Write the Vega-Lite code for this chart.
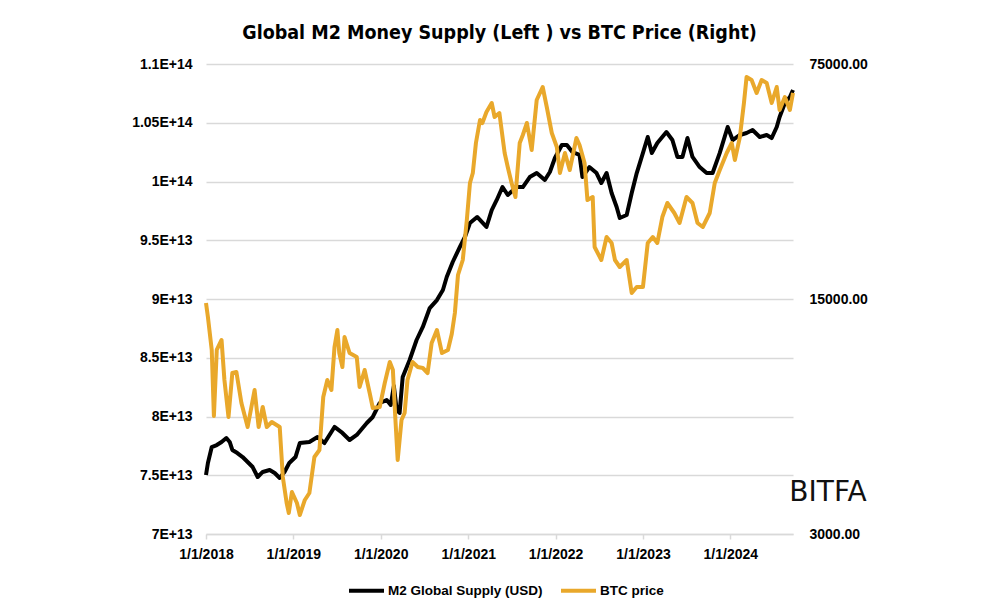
{
  "$schema": "https://vega.github.io/schema/vega-lite/v6.json",
  "autosize": {"type": "none"},
  "width": 587,
  "height": 470,
  "padding": {"left": 206, "top": 64, "right": 207, "bottom": 66},
  "background": "white",
  "title": {
    "text": "Global M2 Money Supply (Left ) vs BTC Price (Right)",
    "font": "Liberation Sans Narrow, DejaVu Sans Condensed, sans-serif",
    "fontSize": 19.5,
    "fontWeight": "bold",
    "color": "#000000",
    "anchor": "middle",
    "frame": "bounds",
    "offset": 14
  },
  "datasets": {
    "m2": [
      {"date": "2018-01-01", "series": "M2 Global Supply (USD)", "value": 7.502e13},
      {"date": "2018-01-09", "series": "M2 Global Supply (USD)", "value": 7.604e13},
      {"date": "2018-01-25", "series": "M2 Global Supply (USD)", "value": 7.740e13},
      {"date": "2018-02-15", "series": "M2 Global Supply (USD)", "value": 7.757e13},
      {"date": "2018-03-07", "series": "M2 Global Supply (USD)", "value": 7.783e13},
      {"date": "2018-03-27", "series": "M2 Global Supply (USD)", "value": 7.817e13},
      {"date": "2018-04-10", "series": "M2 Global Supply (USD)", "value": 7.783e13},
      {"date": "2018-04-21", "series": "M2 Global Supply (USD)", "value": 7.715e13},
      {"date": "2018-05-12", "series": "M2 Global Supply (USD)", "value": 7.689e13},
      {"date": "2018-06-03", "series": "M2 Global Supply (USD)", "value": 7.655e13},
      {"date": "2018-06-24", "series": "M2 Global Supply (USD)", "value": 7.613e13},
      {"date": "2018-07-15", "series": "M2 Global Supply (USD)", "value": 7.570e13},
      {"date": "2018-08-05", "series": "M2 Global Supply (USD)", "value": 7.485e13},
      {"date": "2018-08-26", "series": "M2 Global Supply (USD)", "value": 7.528e13},
      {"date": "2018-09-24", "series": "M2 Global Supply (USD)", "value": 7.545e13},
      {"date": "2018-10-15", "series": "M2 Global Supply (USD)", "value": 7.519e13},
      {"date": "2018-11-05", "series": "M2 Global Supply (USD)", "value": 7.477e13},
      {"date": "2018-11-25", "series": "M2 Global Supply (USD)", "value": 7.528e13},
      {"date": "2018-12-15", "series": "M2 Global Supply (USD)", "value": 7.604e13},
      {"date": "2019-01-10", "series": "M2 Global Supply (USD)", "value": 7.655e13},
      {"date": "2019-01-28", "series": "M2 Global Supply (USD)", "value": 7.774e13},
      {"date": "2019-03-09", "series": "M2 Global Supply (USD)", "value": 7.783e13},
      {"date": "2019-04-12", "series": "M2 Global Supply (USD)", "value": 7.826e13},
      {"date": "2019-05-11", "series": "M2 Global Supply (USD)", "value": 7.774e13},
      {"date": "2019-06-22", "series": "M2 Global Supply (USD)", "value": 7.911e13},
      {"date": "2019-07-25", "series": "M2 Global Supply (USD)", "value": 7.860e13},
      {"date": "2019-08-24", "series": "M2 Global Supply (USD)", "value": 7.800e13},
      {"date": "2019-09-23", "series": "M2 Global Supply (USD)", "value": 7.843e13},
      {"date": "2019-11-04", "series": "M2 Global Supply (USD)", "value": 7.945e13},
      {"date": "2019-11-29", "series": "M2 Global Supply (USD)", "value": 7.996e13},
      {"date": "2019-12-28", "series": "M2 Global Supply (USD)", "value": 8.115e13},
      {"date": "2020-01-26", "series": "M2 Global Supply (USD)", "value": 8.140e13},
      {"date": "2020-02-12", "series": "M2 Global Supply (USD)", "value": 8.098e13},
      {"date": "2020-02-25", "series": "M2 Global Supply (USD)", "value": 8.260e13},
      {"date": "2020-03-08", "series": "M2 Global Supply (USD)", "value": 8.055e13},
      {"date": "2020-03-20", "series": "M2 Global Supply (USD)", "value": 8.030e13},
      {"date": "2020-04-02", "series": "M2 Global Supply (USD)", "value": 8.336e13},
      {"date": "2020-05-01", "series": "M2 Global Supply (USD)", "value": 8.481e13},
      {"date": "2020-05-30", "series": "M2 Global Supply (USD)", "value": 8.651e13},
      {"date": "2020-06-25", "series": "M2 Global Supply (USD)", "value": 8.762e13},
      {"date": "2020-07-24", "series": "M2 Global Supply (USD)", "value": 8.923e13},
      {"date": "2020-08-23", "series": "M2 Global Supply (USD)", "value": 8.991e13},
      {"date": "2020-09-17", "series": "M2 Global Supply (USD)", "value": 9.077e13},
      {"date": "2020-10-03", "series": "M2 Global Supply (USD)", "value": 9.187e13},
      {"date": "2020-10-28", "series": "M2 Global Supply (USD)", "value": 9.315e13},
      {"date": "2020-11-27", "series": "M2 Global Supply (USD)", "value": 9.443e13},
      {"date": "2020-12-18", "series": "M2 Global Supply (USD)", "value": 9.528e13},
      {"date": "2021-01-08", "series": "M2 Global Supply (USD)", "value": 9.647e13},
      {"date": "2021-02-07", "series": "M2 Global Supply (USD)", "value": 9.698e13},
      {"date": "2021-03-18", "series": "M2 Global Supply (USD)", "value": 9.613e13},
      {"date": "2021-04-09", "series": "M2 Global Supply (USD)", "value": 9.757e13},
      {"date": "2021-04-30", "series": "M2 Global Supply (USD)", "value": 9.843e13},
      {"date": "2021-05-24", "series": "M2 Global Supply (USD)", "value": 9.953e13},
      {"date": "2021-06-15", "series": "M2 Global Supply (USD)", "value": 9.885e13},
      {"date": "2021-07-22", "series": "M2 Global Supply (USD)", "value": 9.953e13},
      {"date": "2021-08-17", "series": "M2 Global Supply (USD)", "value": 9.953e13},
      {"date": "2021-09-15", "series": "M2 Global Supply (USD)", "value": 1.0038e14},
      {"date": "2021-10-14", "series": "M2 Global Supply (USD)", "value": 1.0072e14},
      {"date": "2021-11-17", "series": "M2 Global Supply (USD)", "value": 1.0013e14},
      {"date": "2021-12-08", "series": "M2 Global Supply (USD)", "value": 1.0081e14},
      {"date": "2021-12-29", "series": "M2 Global Supply (USD)", "value": 1.0200e14},
      {"date": "2022-01-27", "series": "M2 Global Supply (USD)", "value": 1.0311e14},
      {"date": "2022-02-17", "series": "M2 Global Supply (USD)", "value": 1.0311e14},
      {"date": "2022-03-12", "series": "M2 Global Supply (USD)", "value": 1.0251e14},
      {"date": "2022-04-11", "series": "M2 Global Supply (USD)", "value": 1.0226e14},
      {"date": "2022-04-23", "series": "M2 Global Supply (USD)", "value": 1.0038e14},
      {"date": "2022-05-22", "series": "M2 Global Supply (USD)", "value": 1.0123e14},
      {"date": "2022-06-21", "series": "M2 Global Supply (USD)", "value": 1.0072e14},
      {"date": "2022-07-11", "series": "M2 Global Supply (USD)", "value": 9.987e13},
      {"date": "2022-08-02", "series": "M2 Global Supply (USD)", "value": 1.0072e14},
      {"date": "2022-08-23", "series": "M2 Global Supply (USD)", "value": 9.902e13},
      {"date": "2022-09-13", "series": "M2 Global Supply (USD)", "value": 9.783e13},
      {"date": "2022-09-26", "series": "M2 Global Supply (USD)", "value": 9.689e13},
      {"date": "2022-10-25", "series": "M2 Global Supply (USD)", "value": 9.715e13},
      {"date": "2022-11-15", "series": "M2 Global Supply (USD)", "value": 9.902e13},
      {"date": "2022-12-06", "series": "M2 Global Supply (USD)", "value": 1.0072e14},
      {"date": "2023-01-01", "series": "M2 Global Supply (USD)", "value": 1.0243e14},
      {"date": "2023-01-21", "series": "M2 Global Supply (USD)", "value": 1.0379e14},
      {"date": "2023-02-07", "series": "M2 Global Supply (USD)", "value": 1.0243e14},
      {"date": "2023-03-02", "series": "M2 Global Supply (USD)", "value": 1.0328e14},
      {"date": "2023-04-09", "series": "M2 Global Supply (USD)", "value": 1.0421e14},
      {"date": "2023-05-04", "series": "M2 Global Supply (USD)", "value": 1.0353e14},
      {"date": "2023-05-25", "series": "M2 Global Supply (USD)", "value": 1.0209e14},
      {"date": "2023-06-15", "series": "M2 Global Supply (USD)", "value": 1.0209e14},
      {"date": "2023-07-06", "series": "M2 Global Supply (USD)", "value": 1.0370e14},
      {"date": "2023-07-27", "series": "M2 Global Supply (USD)", "value": 1.0209e14},
      {"date": "2023-08-26", "series": "M2 Global Supply (USD)", "value": 1.0123e14},
      {"date": "2023-09-24", "series": "M2 Global Supply (USD)", "value": 1.0072e14},
      {"date": "2023-10-19", "series": "M2 Global Supply (USD)", "value": 1.0072e14},
      {"date": "2023-11-18", "series": "M2 Global Supply (USD)", "value": 1.0243e14},
      {"date": "2023-12-21", "series": "M2 Global Supply (USD)", "value": 1.0464e14},
      {"date": "2024-01-11", "series": "M2 Global Supply (USD)", "value": 1.0353e14},
      {"date": "2024-02-10", "series": "M2 Global Supply (USD)", "value": 1.0396e14},
      {"date": "2024-03-09", "series": "M2 Global Supply (USD)", "value": 1.0413e14},
      {"date": "2024-04-03", "series": "M2 Global Supply (USD)", "value": 1.0438e14},
      {"date": "2024-05-03", "series": "M2 Global Supply (USD)", "value": 1.0379e14},
      {"date": "2024-06-01", "series": "M2 Global Supply (USD)", "value": 1.0396e14},
      {"date": "2024-06-22", "series": "M2 Global Supply (USD)", "value": 1.0370e14},
      {"date": "2024-07-13", "series": "M2 Global Supply (USD)", "value": 1.0464e14},
      {"date": "2024-07-25", "series": "M2 Global Supply (USD)", "value": 1.0549e14},
      {"date": "2024-08-16", "series": "M2 Global Supply (USD)", "value": 1.0668e14},
      {"date": "2024-09-06", "series": "M2 Global Supply (USD)", "value": 1.0719e14},
      {"date": "2024-09-19", "series": "M2 Global Supply (USD)", "value": 1.0779e14}
    ],
    "btc": [
      {"date": "2018-01-01", "series": "BTC price", "value": 14595},
      {"date": "2018-01-09", "series": "BTC price", "value": 13261},
      {"date": "2018-01-25", "series": "BTC price", "value": 10579},
      {"date": "2018-02-03", "series": "BTC price", "value": 6732},
      {"date": "2018-02-15", "series": "BTC price", "value": 10579},
      {"date": "2018-03-07", "series": "BTC price", "value": 11329},
      {"date": "2018-03-19", "series": "BTC price", "value": 8613},
      {"date": "2018-04-05", "series": "BTC price", "value": 6686},
      {"date": "2018-04-21", "series": "BTC price", "value": 9036},
      {"date": "2018-05-08", "series": "BTC price", "value": 9099},
      {"date": "2018-05-29", "series": "BTC price", "value": 7358},
      {"date": "2018-06-24", "series": "BTC price", "value": 6243},
      {"date": "2018-07-23", "series": "BTC price", "value": 8043},
      {"date": "2018-08-09", "series": "BTC price", "value": 6243},
      {"date": "2018-08-26", "series": "BTC price", "value": 7159},
      {"date": "2018-09-12", "series": "BTC price", "value": 6243},
      {"date": "2018-10-03", "series": "BTC price", "value": 6460},
      {"date": "2018-11-05", "series": "BTC price", "value": 6243},
      {"date": "2018-11-18", "series": "BTC price", "value": 4433},
      {"date": "2018-12-04", "series": "BTC price", "value": 3710},
      {"date": "2018-12-13", "series": "BTC price", "value": 3464},
      {"date": "2018-12-26", "series": "BTC price", "value": 4000},
      {"date": "2019-01-16", "series": "BTC price", "value": 3710},
      {"date": "2019-01-28", "series": "BTC price", "value": 3417},
      {"date": "2019-02-18", "series": "BTC price", "value": 3787},
      {"date": "2019-03-09", "series": "BTC price", "value": 3973},
      {"date": "2019-03-30", "series": "BTC price", "value": 5083},
      {"date": "2019-04-20", "series": "BTC price", "value": 5333},
      {"date": "2019-05-06", "series": "BTC price", "value": 7667},
      {"date": "2019-05-23", "series": "BTC price", "value": 8613},
      {"date": "2019-06-09", "series": "BTC price", "value": 8043},
      {"date": "2019-06-22", "series": "BTC price", "value": 10797},
      {"date": "2019-07-04", "series": "BTC price", "value": 12131},
      {"date": "2019-07-12", "series": "BTC price", "value": 10362},
      {"date": "2019-07-25", "series": "BTC price", "value": 9415},
      {"date": "2019-08-03", "series": "BTC price", "value": 11562},
      {"date": "2019-08-24", "series": "BTC price", "value": 10362},
      {"date": "2019-09-23", "series": "BTC price", "value": 10083},
      {"date": "2019-10-05", "series": "BTC price", "value": 8210},
      {"date": "2019-10-26", "series": "BTC price", "value": 9224},
      {"date": "2019-11-16", "series": "BTC price", "value": 7880},
      {"date": "2019-11-29", "series": "BTC price", "value": 7110},
      {"date": "2019-12-28", "series": "BTC price", "value": 7159},
      {"date": "2020-01-18", "series": "BTC price", "value": 8439},
      {"date": "2020-02-08", "series": "BTC price", "value": 9744},
      {"date": "2020-02-21", "series": "BTC price", "value": 9224},
      {"date": "2020-03-01", "series": "BTC price", "value": 6871},
      {"date": "2020-03-12", "series": "BTC price", "value": 4980},
      {"date": "2020-03-28", "series": "BTC price", "value": 6549},
      {"date": "2020-04-10", "series": "BTC price", "value": 6871},
      {"date": "2020-04-22", "series": "BTC price", "value": 8613},
      {"date": "2020-05-13", "series": "BTC price", "value": 9744},
      {"date": "2020-06-04", "series": "BTC price", "value": 9415},
      {"date": "2020-06-25", "series": "BTC price", "value": 9351},
      {"date": "2020-07-15", "series": "BTC price", "value": 9036},
      {"date": "2020-08-01", "series": "BTC price", "value": 11097},
      {"date": "2020-08-23", "series": "BTC price", "value": 12131},
      {"date": "2020-09-13", "series": "BTC price", "value": 10362},
      {"date": "2020-10-08", "series": "BTC price", "value": 10579},
      {"date": "2020-10-24", "series": "BTC price", "value": 11800},
      {"date": "2020-11-06", "series": "BTC price", "value": 13629},
      {"date": "2020-11-19", "series": "BTC price", "value": 17680},
      {"date": "2020-12-09", "series": "BTC price", "value": 19593},
      {"date": "2020-12-26", "series": "BTC price", "value": 25768},
      {"date": "2021-01-08", "series": "BTC price", "value": 33199},
      {"date": "2021-01-20", "series": "BTC price", "value": 35555},
      {"date": "2021-02-02", "series": "BTC price", "value": 43663},
      {"date": "2021-02-19", "series": "BTC price", "value": 51109},
      {"date": "2021-03-01", "series": "BTC price", "value": 50066},
      {"date": "2021-03-18", "series": "BTC price", "value": 53989},
      {"date": "2021-04-09", "series": "BTC price", "value": 57419},
      {"date": "2021-04-21", "series": "BTC price", "value": 52169},
      {"date": "2021-05-11", "series": "BTC price", "value": 53619},
      {"date": "2021-06-02", "series": "BTC price", "value": 40771},
      {"date": "2021-06-15", "series": "BTC price", "value": 37040},
      {"date": "2021-07-01", "series": "BTC price", "value": 33199},
      {"date": "2021-07-17", "series": "BTC price", "value": 30162},
      {"date": "2021-08-04", "series": "BTC price", "value": 43663},
      {"date": "2021-08-17", "series": "BTC price", "value": 46120},
      {"date": "2021-09-03", "series": "BTC price", "value": 50066},
      {"date": "2021-09-23", "series": "BTC price", "value": 41616},
      {"date": "2021-10-14", "series": "BTC price", "value": 58616},
      {"date": "2021-11-08", "series": "BTC price", "value": 64074},
      {"date": "2021-11-25", "series": "BTC price", "value": 55866},
      {"date": "2021-12-16", "series": "BTC price", "value": 46755},
      {"date": "2022-01-06", "series": "BTC price", "value": 42481},
      {"date": "2022-01-19", "series": "BTC price", "value": 35555},
      {"date": "2022-02-09", "series": "BTC price", "value": 40771},
      {"date": "2022-03-01", "series": "BTC price", "value": 36289},
      {"date": "2022-03-29", "series": "BTC price", "value": 45185},
      {"date": "2022-04-11", "series": "BTC price", "value": 43066},
      {"date": "2022-05-02", "series": "BTC price", "value": 38071},
      {"date": "2022-05-14", "series": "BTC price", "value": 29550},
      {"date": "2022-06-05", "series": "BTC price", "value": 30162},
      {"date": "2022-06-13", "series": "BTC price", "value": 21417},
      {"date": "2022-07-11", "series": "BTC price", "value": 19593},
      {"date": "2022-08-02", "series": "BTC price", "value": 22935},
      {"date": "2022-08-23", "series": "BTC price", "value": 22013},
      {"date": "2022-09-06", "series": "BTC price", "value": 19593},
      {"date": "2022-09-26", "series": "BTC price", "value": 18675},
      {"date": "2022-10-25", "series": "BTC price", "value": 19593},
      {"date": "2022-11-15", "series": "BTC price", "value": 15630},
      {"date": "2022-12-06", "series": "BTC price", "value": 16285},
      {"date": "2023-01-01", "series": "BTC price", "value": 16285},
      {"date": "2023-01-21", "series": "BTC price", "value": 22013},
      {"date": "2023-02-11", "series": "BTC price", "value": 22935},
      {"date": "2023-03-02", "series": "BTC price", "value": 22013},
      {"date": "2023-03-23", "series": "BTC price", "value": 26300},
      {"date": "2023-04-13", "series": "BTC price", "value": 28950},
      {"date": "2023-05-12", "series": "BTC price", "value": 27034},
      {"date": "2023-06-03", "series": "BTC price", "value": 25242},
      {"date": "2023-07-02", "series": "BTC price", "value": 30162},
      {"date": "2023-07-27", "series": "BTC price", "value": 28950},
      {"date": "2023-08-17", "series": "BTC price", "value": 25242},
      {"date": "2023-09-08", "series": "BTC price", "value": 24560},
      {"date": "2023-10-07", "series": "BTC price", "value": 27034},
      {"date": "2023-10-28", "series": "BTC price", "value": 33199},
      {"date": "2023-11-18", "series": "BTC price", "value": 36289},
      {"date": "2023-12-17", "series": "BTC price", "value": 40771},
      {"date": "2024-01-07", "series": "BTC price", "value": 43663},
      {"date": "2024-01-20", "series": "BTC price", "value": 38866},
      {"date": "2024-02-10", "series": "BTC price", "value": 45500},
      {"date": "2024-02-27", "series": "BTC price", "value": 57419},
      {"date": "2024-03-09", "series": "BTC price", "value": 68615},
      {"date": "2024-03-30", "series": "BTC price", "value": 67220},
      {"date": "2024-04-20", "series": "BTC price", "value": 61498},
      {"date": "2024-05-11", "series": "BTC price", "value": 67220},
      {"date": "2024-06-01", "series": "BTC price", "value": 65855},
      {"date": "2024-06-22", "series": "BTC price", "value": 57419},
      {"date": "2024-07-13", "series": "BTC price", "value": 64074},
      {"date": "2024-07-25", "series": "BTC price", "value": 54729},
      {"date": "2024-08-16", "series": "BTC price", "value": 59832},
      {"date": "2024-09-06", "series": "BTC price", "value": 54729},
      {"date": "2024-09-19", "series": "BTC price", "value": 61498}
    ],
    "logo": [
      {"date": "2025-02-12", "value": 7.349e13, "label": "BITFA"}
    ]
  },
  "encoding": {
    "x": {
      "field": "date",
      "type": "temporal",
      "scale": {
        "type": "utc",
        "domain": [
          {"year": 2018, "month": 1, "date": 1, "utc": true},
          {"year": 2024, "month": 9, "date": 19, "utc": true}
        ],
        "nice": false
      },
      "axis": {
        "title": null,
        "values": [
          {"year": 2018, "month": 1, "date": 1, "utc": true},
          {"year": 2019, "month": 1, "date": 1, "utc": true},
          {"year": 2020, "month": 1, "date": 1, "utc": true},
          {"year": 2021, "month": 1, "date": 1, "utc": true},
          {"year": 2022, "month": 1, "date": 1, "utc": true},
          {"year": 2023, "month": 1, "date": 1, "utc": true},
          {"year": 2024, "month": 1, "date": 1, "utc": true}
        ],
        "labelExpr": "utcFormat(datum.value, '%-m/%-d/%Y')",
        "labelFlush": false,
        "labelOverlap": false,
        "grid": false,
        "domain": true,
        "domainColor": "#d9d9d9",
        "domainWidth": 1.5,
        "ticks": true,
        "tickColor": "#d9d9d9",
        "tickSize": 5,
        "tickWidth": 1.5,
        "labelPadding": 8,
        "labelFontSize": 14,
        "labelFontWeight": "bold",
        "labelColor": "#000000",
        "labelFont": "Liberation Sans, Arial, sans-serif"
      }
    }
  },
  "layer": [
    {
      "data": {"name": "m2"},
      "mark": {"type": "line", "strokeWidth": 4, "strokeJoin": "round"},
      "encoding": {
        "y": {
          "field": "value",
          "type": "quantitative",
          "scale": {"domain": [7e13, 1.1e14], "nice": false, "zero": false},
          "axis": {
            "orient": "left",
            "title": null,
            "values": [7e13, 7.5e13, 8e13, 8.5e13, 9e13, 9.5e13, 1e14, 1.05e14, 1.1e14],
            "labelExpr": "replace(format(datum.value, '.3~e'), 'e', 'E')",
            "grid": true,
            "gridColor": "#d9d9d9",
            "gridWidth": 1.5,
            "domain": false,
            "ticks": false,
            "labelPadding": 14,
            "labelFontSize": 14,
            "labelFontWeight": "bold",
            "labelColor": "#000000",
            "labelFont": "Liberation Sans, Arial, sans-serif"
          }
        },
        "color": {
          "field": "series",
          "type": "nominal",
          "scale": {"domain": ["M2 Global Supply (USD)", "BTC price"], "range": ["#000000", "#E9A82B"]},
          "legend": {
            "title": null,
            "orient": "none",
            "legendX": 141,
            "legendY": 507,
            "direction": "horizontal",
            "symbolType": "stroke",
            "symbolSize": 1225,
            "symbolStrokeWidth": 4,
            "labelFontSize": 13.5,
            "labelFontWeight": "bold",
            "labelColor": "#000000",
            "labelFont": "Liberation Sans, Arial, sans-serif",
            "labelLimit": 400,
            "labelOffset": 2,
            "columnPadding": 10
          }
        }
      }
    },
    {
      "data": {"name": "btc"},
      "mark": {"type": "line", "strokeWidth": 4, "strokeJoin": "round"},
      "encoding": {
        "y": {
          "field": "value",
          "type": "quantitative",
          "scale": {"type": "log", "domain": [3000, 75000], "nice": false},
          "axis": {
            "orient": "right",
            "title": null,
            "values": [3000, 15000, 75000],
            "format": ".2f",
            "grid": false,
            "domain": false,
            "ticks": false,
            "labelPadding": 16,
            "labelFontSize": 14,
            "labelFontWeight": "bold",
            "labelColor": "#000000",
            "labelFont": "Liberation Sans, Arial, sans-serif"
          }
        },
        "color": {"field": "series", "type": "nominal"}
      }
    },
    {
      "data": {"name": "logo"},
      "mark": {"type": "text", "fontSize": 28, "font": "DejaVu Sans, sans-serif", "color": "#111111", "align": "center", "baseline": "middle"},
      "encoding": {
        "y": {
          "field": "value",
          "type": "quantitative",
          "scale": {"domain": [7e13, 1.1e14], "nice": false, "zero": false},
          "axis": null
        },
        "text": {"field": "label"}
      }
    }
  ],
  "resolve": {"scale": {"y": "independent"}},
  "config": {
    "view": {"stroke": null},
    "font": "Liberation Sans, Arial, sans-serif"
  }
}
